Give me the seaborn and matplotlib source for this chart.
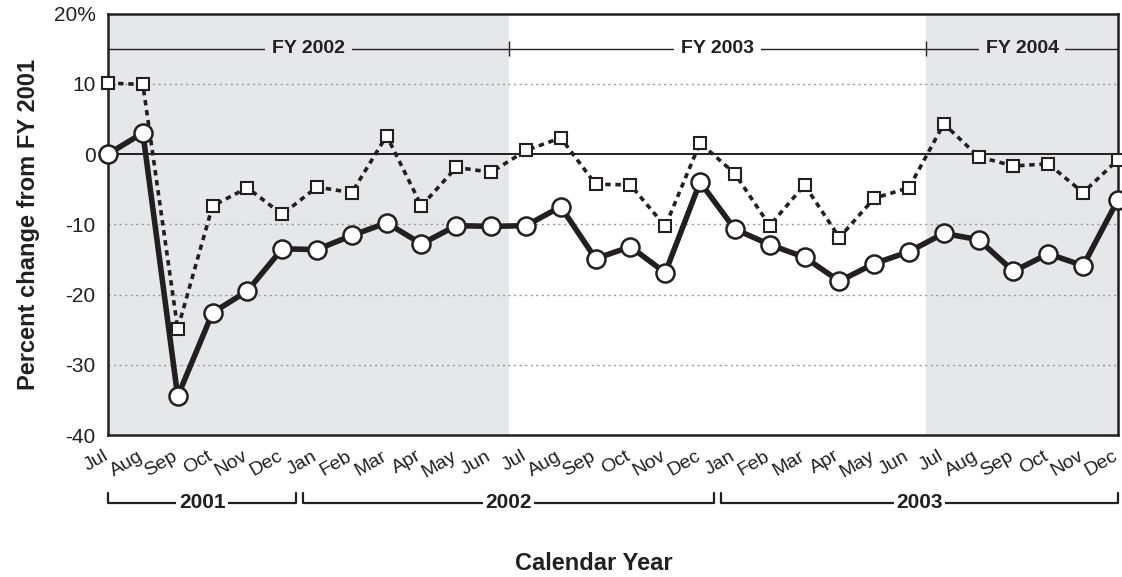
import numpy as np
import pandas as pd
import matplotlib
matplotlib.use('Agg')
import matplotlib.pyplot as plt
import matplotlib.transforms as mtransforms
import seaborn as sns

# Data (percent change from FY 2001), Jul 2001 .. Dec 2003
months = ['Jul', 'Aug', 'Sep', 'Oct', 'Nov', 'Dec',
          'Jan', 'Feb', 'Mar', 'Apr', 'May', 'Jun',
          'Jul', 'Aug', 'Sep', 'Oct', 'Nov', 'Dec',
          'Jan', 'Feb', 'Mar', 'Apr', 'May', 'Jun',
          'Jul', 'Aug', 'Sep', 'Oct', 'Nov', 'Dec']
solid_vals = [0.0, 3.0, -34.5, -22.6, -19.5, -13.5,
              -13.6, -11.6, -9.8, -12.8, -10.2, -10.3,
              -10.2, -7.5, -14.9, -13.2, -16.9, -4.0,
              -10.7, -12.9, -14.7, -18.1, -15.6, -13.9,
              -11.3, -12.2, -16.7, -14.2, -15.9, -6.5]
dashed_vals = [10.1, 9.9, -24.9, -7.4, -4.8, -8.6,
               -4.7, -5.5, 2.6, -7.4, -1.9, -2.6,
               0.5, 2.3, -4.3, -4.4, -10.3, 1.6,
               -2.8, -10.2, -4.4, -11.9, -6.3, -4.8,
               4.3, -0.4, -1.7, -1.4, -5.5, -0.8]

fy_labels = ['FY 2002', 'FY 2003', 'FY 2004']
fy_first = [0, 12, 24]      # index of first month in fiscal year
fy_last = [11, 23, 29]
fy_shaded = [True, False, True]

cal_labels = ['2001', '2002', '2003']
cal_first = [0, 6, 18]
cal_last = [5, 17, 29]

y_ticks = [20, 10, 0, -10, -20, -30, -40]
y_ticklabels = ['20%', '10', '0', '-10', '-20', '-30', '-40']

ink = '#231f20'
shade = '#e6e7e9'
narrow = ['Liberation Sans Narrow', 'Liberation Sans']

sns.set_style('white')
plt.rcParams['font.family'] = ['Liberation Sans', 'DejaVu Sans']

df = pd.DataFrame({'idx': np.arange(len(months)),
                   'solid': solid_vals,
                   'dashed': dashed_vals})
n_last = len(months) - 1

fig = plt.figure(figsize=(11.22, 5.77), dpi=100)
ax = fig.add_axes([0.0963, 0.2461, 0.9001, 0.7305])

# fiscal year shading
for first, last, sh in zip(fy_first, fy_last, fy_shaded):
    if sh:
        ax.axvspan(max(first - 0.5, 0), min(last + 0.5, n_last),
                   color=shade, lw=0, zorder=0)

# grid lines
for v in y_ticks:
    if v == 0:
        ax.axhline(0, color=ink, lw=1.4, zorder=1)
    elif y_ticks[-1] < v < y_ticks[0]:
        ax.axhline(v, color='#9a9a9a', lw=1.0, ls=(0, (1.5, 2.5)), zorder=1)

sns.lineplot(data=df, x='idx', y='dashed', ax=ax, color=ink, lw=2.6,
             linestyle=(0, (1.5, 1.3)), marker='s', markersize=9,
             markerfacecolor='white', markeredgecolor=ink, markeredgewidth=1.5,
             clip_on=False, zorder=3)
sns.lineplot(data=df, x='idx', y='solid', ax=ax, color=ink, lw=4,
             marker='o', markersize=13, markerfacecolor='white',
             markeredgecolor=ink, markeredgewidth=1.8,
             clip_on=False, zorder=4)

ax.set_xlim(0, n_last)
ax.set_ylim(y_ticks[-1], y_ticks[0])
ax.set_yticks(y_ticks)
ax.set_yticklabels(y_ticklabels, fontsize=15, color=ink)
ax.set_xticks(df['idx'])
ax.set_xticklabels([])
ax.tick_params(axis='x', direction='out', length=7, width=1.4, color=ink)
ax.tick_params(axis='y', direction='out', length=5, width=1.4, color=ink, pad=4)
for s in ax.spines.values():
    s.set_color(ink)
    s.set_linewidth(1.8)
ax.set_xlabel('')
ax.set_ylabel('Percent change from FY 2001', fontsize=17, fontweight='bold',
              color=ink, labelpad=10)

trans = mtransforms.blended_transform_factory(ax.transData, ax.transAxes)

# month labels, rotated, drawn manually so they can be nudged
for i, m in zip(df['idx'], months):
    ax.annotate(m, xy=(i, 0), xycoords=trans, xytext=(-4, -9),
                textcoords='offset points', rotation=30, ha='right', va='top',
                rotation_mode='anchor', fontsize=14, color=ink, family=narrow,
                annotation_clip=False)

# fiscal year band along the top
fy_y = 15
ax.hlines(fy_y, 0, n_last, color=ink, lw=1.0, zorder=2)
for i, (lab, first, last, sh) in enumerate(zip(fy_labels, fy_first, fy_last, fy_shaded)):
    a = max(first - 0.5, 0)
    b = min(last + 0.5, n_last)
    if i > 0:
        ax.vlines(a, fy_y - 1.1, fy_y + 1.1, color=ink, lw=1.0, zorder=2)
    ax.text((a + b) / 2, fy_y, lab, ha='center', va='center', fontsize=14,
            fontweight='bold', color=ink, family=narrow, zorder=3,
            bbox=dict(boxstyle='square,pad=0.35', fc=shade if sh else 'white', ec='none'))

# calendar year brackets below the month labels
yb, yt = -0.161, -0.138
for lab, first, last in zip(cal_labels, cal_first, cal_last):
    a = max(first - 0.4, 0)
    b = min(last + 0.4, n_last)
    ax.plot([a, a, b, b], [yt, yb, yb, yt], color=ink, lw=1.6,
            transform=trans, clip_on=False)
    ax.text((a + b) / 2, yb, lab, ha='center', va='center', fontsize=15,
            fontweight='bold', color=ink, transform=trans,
            bbox=dict(boxstyle='square,pad=0.12', fc='white', ec='none'))

fig.text(0.529, 0.024, 'Calendar Year', ha='center', va='center',
         fontsize=17, fontweight='bold', color=ink)

fig.savefig('out.png', dpi=100)
